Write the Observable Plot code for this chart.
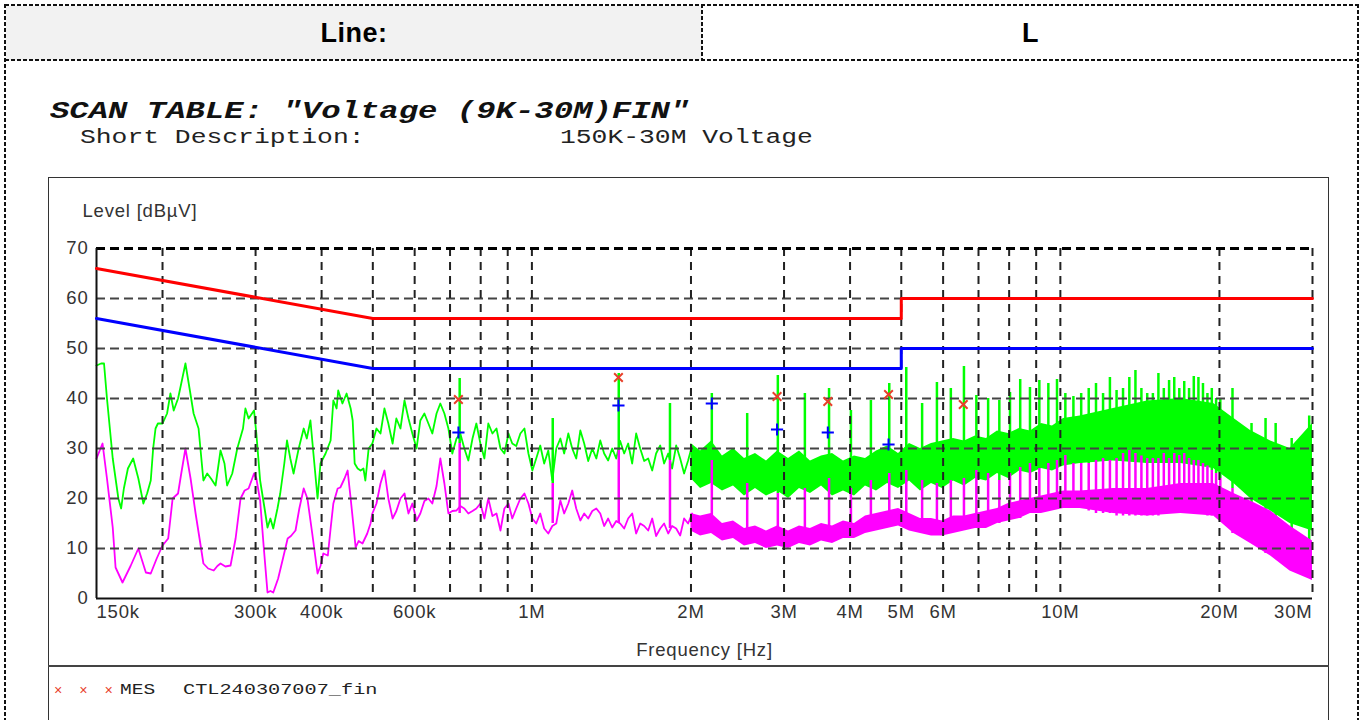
<!DOCTYPE html>
<html><head><meta charset="utf-8">
<script src="https://cdn.jsdelivr.net/npm/d3@7"></script>
<script src="https://cdn.jsdelivr.net/npm/@observablehq/plot@0.6"></script>
<style>
html,body{margin:0;padding:0;background:#fff;}
body{width:1362px;height:720px;overflow:hidden;position:relative;font-family:"Liberation Sans",Arial,sans-serif;}
.dh{position:absolute;height:2px;background:repeating-linear-gradient(90deg,#111 0 4px,transparent 4px 6px);}
.dv{position:absolute;width:2px;background:repeating-linear-gradient(180deg,#111 0 4px,transparent 4px 6px);}
.cell{position:absolute;top:6px;height:54px;display:flex;align-items:center;justify-content:center;font-weight:bold;font-size:27px;letter-spacing:0.5px;color:#000;}
.mono{position:absolute;font-family:"Liberation Mono","DejaVu Sans Mono",monospace;white-space:pre;transform-origin:0 0;color:#222;line-height:1;}
#frame{position:absolute;left:48px;top:177px;width:1279px;height:700px;border:1.5px solid #333;}
#sep{position:absolute;left:48px;top:665px;width:1281px;height:2px;background:#444;}
#chart{position:absolute;left:48px;top:200px;}
#chart svg text{letter-spacing:0.8px;}
</style></head>
<body>
<div class="cell" style="left:6px;width:696px;background:#f2f2f2;">Line:</div>
<div class="cell" style="left:703px;width:655px;">L</div>
<div class="dh" style="left:5px;top:4px;width:1354px;height:1.5px;"></div>
<div class="dh" style="left:5px;top:59px;width:1354px;"></div>
<div class="dv" style="left:4px;top:4px;height:720px;"></div>
<div class="dv" style="left:701px;top:4px;height:56px;width:1.5px;"></div>
<div class="dv" style="left:1357px;top:4px;height:720px;"></div>
<div class="mono" style="left:50px;top:99.5px;font-size:24px;font-weight:bold;font-style:italic;transform:scaleX(1.345);color:#111;">SCAN TABLE: "Voltage (9K-30M)FIN"</div>
<div class="mono" style="left:80px;top:127.5px;font-size:20.5px;transform:scaleX(1.285);">Short Description:</div>
<div class="mono" style="left:560px;top:127.5px;font-size:20.5px;transform:scaleX(1.285);">150K-30M Voltage</div>
<div id="frame"></div>
<div id="sep"></div>
<div class="mono" style="left:54px;top:684px;font-size:14px;"><span style="color:#e8402a;">×  ×  ×</span></div>
<div class="mono" style="left:120px;top:683px;font-size:15px;transform:scaleX(1.3);">MES</div>
<div class="mono" style="left:183px;top:683px;font-size:15px;transform:scaleX(1.35);">CTL240307007_fin</div>
<div id="chart"></div>
<script>
// ---------- axis ticks ----------
const xTickValues = [0.15, 0.3, 0.4, 0.6, 0.8, 1, 2, 3, 4, 5, 6, 8, 10, 20, 30];
const xTickLabels = ["150k","300k","400k","600k","800k","1M","2M","3M","4M","5M","6M","8M","10M","20M","30M"];
const xGridValues = [0.2,0.3,0.4,0.5,0.6,0.7,0.8,0.9,1,2,3,4,5,6,7,8,9,10,20,30];
const yTickValues = [0,10,20,30,40,50,60,70];

// ---------- limit lines (MHz, dBµV) ----------
const qpLimitFreq = [0.15, 0.5, 5, 5, 30];
const qpLimitLevel = [66, 56, 56, 60, 60];
const avLimitFreq = [0.15, 0.5, 5, 5, 30];
const avLimitLevel = [56, 46, 46, 50, 50];

// ---------- peak (green) trace 150 kHz - 2 MHz ----------
const peakFreq = [0.150,0.153,0.155,0.157,0.161,0.165,0.167,0.169,0.172,0.176,0.180,0.184,0.187,0.190,0.192,0.194,0.196,0.200,0.204,0.207,0.210,0.214,0.217,0.221,0.225,0.229,0.234,0.239,0.243,0.247,0.252,0.2575,0.262,0.265,0.271,0.277,0.284,0.287,0.291,0.298,0.301,0.306,0.312,0.316,0.320,0.324,0.330,0.334,0.340,0.344,0.349,0.354,0.362,0.370,0.375,0.381,0.386,0.393,0.398,0.407,0.416,0.421,0.427,0.430,0.438,0.446,0.454,0.458,0.462,0.468,0.474,0.480,0.484,0.491,
  0.499,0.508,0.517,0.526,0.535,0.545,0.554,0.564,0.574,0.584,0.594,0.605,0.615,0.626,0.637,0.648,0.660,0.671,0.683,0.695,0.707,0.720,0.732,0.745,0.758,0.772,0.785,0.799,0.813,0.827,0.842,0.857,0.872,0.887,0.903,0.918,0.934,0.951,0.968,0.985,1.002,1.019,1.037,1.055,1.074,1.093,1.112,1.132,1.151,1.172,1.192,1.213,1.235,1.256,1.278,1.301,1.324,1.347,1.370,1.394,1.419,1.444,1.469,1.495,1.521,1.548,1.575,1.603,1.631,1.660,1.689,1.718,1.749,1.779,1.811,1.842,1.875,1.908,1.941,1.975,2.010];
const peakLevel = [46.6,47,47,40,28,20,18,22,26,28,24,19,21,23.6,30,34,35,35,37,41,37.6,40,43,47,42,37,34,23.6,25,24,22.6,29.6,27,22.6,25,30,34,38,36,37.6,33,23.6,18,14.2,16,14,18,21,27,31.6,28,25,30,34,32,35.6,29,20,27,29,31.6,39.6,38,41.6,39,41,38,35.6,27,26,25.6,26,23.6,30,
  31,34,33,38,35,31,36,34,39.6,36,33,30,35.6,37,35,33,37,39,37,34,29,32,33,30,27.6,32,35,31,28,35,33,34,30,29,33,31,30.5,33,34,29,25.6,28,30.6,27,29.6,23.6,30,32,29,33,30,28,33.6,31,27.5,30,28,31.6,29,27.6,30,28,31.5,29,31,27,33,30,27.5,28,25.6,29,30.6,27,29,26,30.6,28,25,27.6,30.6];

// ---------- average (magenta) trace 150 kHz - 2 MHz ----------
const avgFreq = [0.150,0.154,0.157,0.161,0.163,0.168,0.174,0.180,0.186,0.190,0.195,0.200,0.205,0.209,0.214,0.217,0.221,0.226,0.231,0.235,0.239,0.244,0.250,0.254,0.2575,0.263,0.269,0.275,0.281,0.286,0.291,0.298,0.301,0.306,0.311,0.316,0.320,0.324,0.331,0.338,0.345,0.350,0.357,0.363,0.370,0.376,0.384,0.393,0.398,0.403,0.411,0.416,0.421,0.429,0.434,0.442,0.448,0.454,0.464,0.470,0.478,0.488,0.495,
  0.499,0.508,0.517,0.526,0.535,0.545,0.554,0.564,0.574,0.584,0.594,0.605,0.615,0.626,0.637,0.648,0.660,0.671,0.683,0.695,0.707,0.720,0.732,0.745,0.758,0.772,0.785,0.799,0.813,0.827,0.842,0.857,0.872,0.887,0.903,0.918,0.934,0.951,0.968,0.985,1.002,1.019,1.037,1.055,1.074,1.093,1.112,1.132,1.151,1.172,1.192,1.213,1.235,1.256,1.278,1.301,1.324,1.347,1.370,1.394,1.419,1.444,1.469,1.495,1.521,1.548,1.575,1.603,1.631,1.660,1.689,1.718,1.749,1.779,1.811,1.842,1.875,1.908,1.941,1.975,2.010];
const avgLevel = [28,31,24,14.2,6.2,3.2,6.5,10,5.2,5,8,10.6,12,20,21,25,30,24,17,12,7,6,5.6,6.5,7,6.4,6.6,12,20,21.6,22,25,24,19.6,10,1.2,1.5,1.2,4,8,12,12.5,13.6,18,22,20,13,5,6.5,9,8.6,14,19,22,22.2,24,25.6,20,10.2,11.5,11,13,15,
  17,19,23,25.6,20,16,17.5,20,21,17,19,15.6,17,19.5,20,19,22.5,28,23,17,17.5,17.6,18.5,18,17,17.5,18,19,16,20,16.5,17,13.6,18,19,16,18,20,21,19,16,15,17,14,13,14.5,15,19.6,17,19,21.6,18,15.6,17,16,17.5,18,17,14.5,16,14.2,15.5,15,14,16,17,13,15,14.5,13.6,16,12.5,14,15,13,14.5,14,12.6,16,15,17];

// ---------- dense noise envelopes 2 MHz - 30 MHz ----------
const bandFreq = [2.000,2.085,2.187,2.294,2.407,2.525,2.649,2.779,2.915,3.059,3.209,3.366,3.532,3.705,3.887,4.078,4.278,4.488,4.709,4.940,5.182,5.436,5.703,5.983,6.277,6.585,6.908,7.247,7.603,7.976,8.368,8.779,9.210,9.662,10.14,10.9,12.6,14.6,16.9,19.5,21.3,22.9,25.0,27.2,30.0];
const peakBandLow = [24,22,23,21.5,22.5,20.5,22,20.5,21.5,20,22,21,22.5,20.5,21.5,20.5,22.5,21.5,23,22,23.5,21.5,23,22,23.5,22.5,24,23.5,25,24,25.5,25,26,25.5,26.5,27,27.5,27,27,26,23,20,17.5,15,13.5];
const peakBandHigh = [31,29.5,31.5,28.5,30,28,29,27.5,29.5,28,29.5,27.5,28.5,29,27.5,28.5,28,29.5,30.5,29,31,30,31,31.5,32,31.5,32.5,32,33.5,33,34,33.5,35,34.5,36,36.5,38,39.5,40,39,36,33.6,31.5,30,35];
const avgBandLow = [13.5,12.5,13,11.5,12,10.5,11,10,10.5,10,11,10.5,11.5,11,12,12,13,13.5,14,14.5,13.5,13,12.5,12.5,13,13.5,14,14,15,15.5,16,17,17,17.5,18,18,17,16.5,17,16.5,13,11,8.5,5.5,3.6];
const avgBandHigh = [17,16.5,17,15,15.5,14,14.5,13.5,14.5,13.5,14.5,14,15,14.5,15.5,15,16.5,17,17.5,18,17,16,16,15.5,16.5,16.5,17,17.5,18,19,19.5,20,20.5,21,21.5,21.5,22,22,23,23,21,19.5,17.5,14.5,11.5];

// ---------- harmonic spikes (MHz, peak top, average top, average base) ----------
const spikeFreq = [0.73,1.095,1.46,1.825,2.19,2.555,2.92,3.285,3.65,4.015,4.38,4.745,5.11,5.475,5.84,6.205,6.57,6.935,7.3,7.665,8.03,8.395,8.76,9.125,9.49,9.855,10.22,10.585,10.95,11.315,11.68,12.045,12.41,12.775,13.14,13.505,13.87,14.235,14.6,14.965,15.33,15.695,16.06,16.425,16.79,17.155,17.52,17.885,18.25,18.615,18.98,19.345,19.71,20.075,21.17,23.0,24.45,25.55,27.4,29.57];
const spikePeak = [44,36,45,39,41,37,44.6,41,42,37.6,39.6,43,46.2,39,43.2,42,46.4,40.6,40,39.6,41.2,43.8,42.2,43.6,43,43.8,41,40.4,41,42,43,41,44.2,41.6,42,44.2,45.6,42,41,41,45,42,43.6,44.2,42,43.4,42,44.4,44.2,43,41,42,40,40,42,35,36,35,32,36.5];
const spikeAvg = [31,23,29.6,27.6,27.6,23,21,22,24,22,23.6,25,25.6,23.6,23,23.6,24,25.6,25,23.6,25,26.2,27,26,27,27.6,28.6,27,27,27,27.6,28,27.6,28,29,29.6,29,28.5,28,28,28,29,28,29,28.6,29,28,27.6,27.6,27,26.5,25.6,25,24,22,19,17,15,12,11];
const spikeBase = [17,15,15,14,14,11,11,12,13,13,14,15,14,13,13,13,14,14,15,15,16,16,17,17,17.5,18,18,18,18,17.5,17,17,17,16.5,16.5,16.5,16.5,16.5,16.5,16.5,16.5,17,17,17,17,17,17,17,17,17,16.5,16.5,16.5,16,13,11,9,8,6,4];

// ---------- final measurements ----------
const qpMeasFreq = [0.726, 1.458, 2.91, 3.63, 4.73, 6.55];
const qpMeasLevel = [39.8, 44.2, 40.4, 39.4, 40.8, 38.8];
const avMeasFreq = [0.726, 1.458, 2.19, 2.91, 3.63, 4.73];
const avMeasLevel = [33.2, 38.6, 39.0, 33.8, 33.2, 30.8];

// ---------- build tables ----------
const zip = (fs, vs) => fs.map((f, i) => ({f, v: vs[i]}));
const peakRows = zip(peakFreq, peakLevel);
const avgRows = zip(avgFreq, avgLevel);
const bandRows = bandFreq.map((f, i) => ({f, plo: peakBandLow[i], phi: peakBandHigh[i], alo: avgBandLow[i], ahi: avgBandHigh[i]}));
const spikeRows = spikeFreq.map((f, i) => ({f, pk: spikePeak[i], avg: spikeAvg[i], base: spikeBase[i]}));
const qpRows = zip(qpLimitFreq, qpLimitLevel);
const avRows = zip(avLimitFreq, avLimitLevel);
const qpMeas = zip(qpMeasFreq, qpMeasLevel);
const avMeas = zip(avMeasFreq, avMeasLevel);
const fmt = d => xTickLabels[xTickValues.indexOf(d)];

const GREEN = "#00ff00", MAGENTA = "#ff00ff";
const axisStyle = {tickSize: 0, fill: "#333", fontSize: 18.5};

const chart = Plot.plot({
  width: 1280, height: 467,
  marginLeft: 48, marginRight: 16, marginTop: 48, marginBottom: 69,
  x: {type: "log", domain: [0.15, 30]},
  y: {domain: [0, 70]},
  style: {fontFamily: "'Liberation Sans', Arial, sans-serif", fontSize: "18.5px", background: "transparent", overflow: "visible"},
  marks: [
    Plot.areaY(bandRows, {x: "f", y1: "plo", y2: "phi", fill: GREEN}),
    Plot.line(peakRows, {x: "f", y: "v", stroke: GREEN, strokeWidth: 1.8}),
    Plot.ruleX(spikeRows, {x: "f", y1: "avg", y2: "pk", stroke: GREEN, strokeWidth: 2.5}),
    Plot.areaY(bandRows, {x: "f", y1: "alo", y2: "ahi", fill: MAGENTA}),
    Plot.line(avgRows, {x: "f", y: "v", stroke: MAGENTA, strokeWidth: 1.8}),
    Plot.ruleX(spikeRows, {x: "f", y1: "base", y2: "avg", stroke: MAGENTA, strokeWidth: 2.5}),
    Plot.gridY(yTickValues.filter(d => d > 0 && d < 70), {stroke: "#444", strokeOpacity: 1, strokeWidth: 2, strokeDasharray: "9,5"}),
    Plot.gridX(xGridValues, {stroke: "#222", strokeOpacity: 1, strokeWidth: 2, strokeDasharray: "8,6"}),
    Plot.gridY([70], {stroke: "#000", strokeOpacity: 1, strokeWidth: 3, strokeDasharray: "9,5"}),
    Plot.ruleY([0], {stroke: "#111", strokeWidth: 2}),
    Plot.ruleX([0.15], {stroke: "#111", strokeWidth: 2}),
    Plot.line(qpRows, {x: "f", y: "v", stroke: "#ff0000", strokeWidth: 3}),
    Plot.line(avRows, {x: "f", y: "v", stroke: "#0000ff", strokeWidth: 3}),
    Plot.dot(qpMeas, {x: "f", y: "v", symbol: "times", stroke: "#e8402a", r: 4, strokeWidth: 2}),
    Plot.dot(avMeas, {x: "f", y: "v", symbol: "plus", stroke: "#0000ff", r: 4, strokeWidth: 2}),
    Plot.axisY(yTickValues, {...axisStyle, tickPadding: 8, label: "Level [dBµV]", labelAnchor: "top", labelArrow: "none", labelOffset: 14}),
    Plot.axisX([0.15], {...axisStyle, tickPadding: 6, tickFormat: fmt, textAnchor: "start", label: null}),
    Plot.axisX(xTickValues.slice(1, -1), {...axisStyle, tickPadding: 6, tickFormat: fmt, label: "Frequency [Hz]", labelAnchor: "center", labelArrow: "none", labelOffset: 57}),
    Plot.axisX([30], {...axisStyle, tickPadding: 6, tickFormat: fmt, textAnchor: "end", label: null})
  ]
});
document.getElementById("chart").appendChild(chart);
</script>
</body></html>
